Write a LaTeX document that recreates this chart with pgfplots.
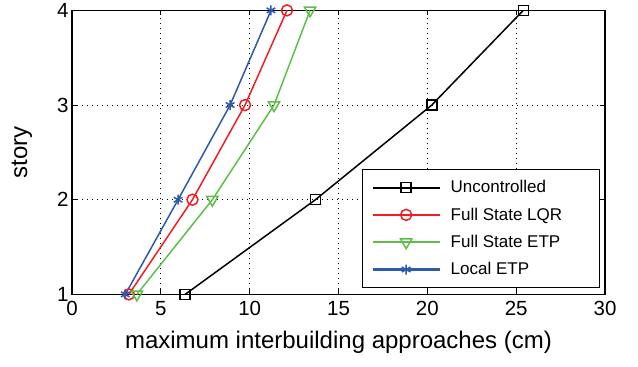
\documentclass[border=0pt]{standalone}
\usepackage{pgfplots}
\pgfplotsset{compat=1.18}
\usepackage{fontspec}
\setmainfont{Liberation Sans}
\definecolor{cred}{RGB}{240,30,35}
\definecolor{cgreen}{RGB}{95,190,75}
\definecolor{cblue}{RGB}{45,90,170}
\newcommand{\legtxt}[1]{\hspace{8pt}\makebox[138pt][l]{#1}}
\begin{document}
\begin{tikzpicture}
\begin{axis}[
  name=ax,
  scale only axis,
  width=533pt, height=284pt,
  xmin=0, xmax=30, ymin=1, ymax=4,
  xtick={0,5,...,30}, ytick={1,2,3,4},
  grid=major,
  major grid style={black, line width=0.7pt, dash pattern=on 1pt off 4pt},
  axis line style={line width=1.2pt},
  tick style={black, line width=0.8pt},
  tick align=inside,
  major tick length=5pt,
  /pgf/number format/assume math mode=true,
  ticklabel style={font=\fontsize{20.5}{24}\selectfont},
  xticklabel style={yshift=-3pt},
  xlabel={maximum interbuilding approaches (cm)},
  ylabel={story},
  label style={font=\fontsize{24}{28}\selectfont},
  xlabel style={yshift=-9pt},
  ylabel style={yshift=18pt},
  legend cell align=left,
  legend style={at={(rel axis cs:0.991,0.021)}, anchor=south east,
    font=\fontsize{17}{20}\selectfont, draw=black, line width=1pt,
    row sep=9.5pt, inner xsep=9pt, inner ysep=9.5pt},
  legend image post style={line width=2.1pt},
  legend image code/.code={\draw[#1] (0pt,0pt) -- (67pt,0pt); \draw[#1, mark repeat=2, mark phase=2] plot coordinates {(0pt,0pt) (33.5pt,0pt) (67pt,0pt)};},
]
\addplot[black, line width=1.5pt, mark=square, mark size=5pt, mark options={solid, line width=1.5pt}] coordinates {(6.37,1) (13.7,2) (20.25,3) (25.4,4)};
\addlegendentry{\legtxt{Uncontrolled}}
\addplot[cred, line width=1.5pt, mark=o, mark size=5.5pt, mark options={solid, line width=1.5pt}] coordinates {(3.2,1) (6.78,2) (9.74,3) (12.1,4)};
\addlegendentry{\legtxt{Full State LQR}}
\addplot[cgreen, line width=1.5pt, mark=triangle, mark size=6.5pt, mark options={solid, line width=1.5pt, rotate=180}] coordinates {(3.65,1) (7.9,2) (11.37,3) (13.4,4)};
\addlegendentry{\legtxt{Full State ETP}}
\addplot[cblue, line width=1.5pt, mark=asterisk, mark size=5pt, mark options={solid, line width=1.5pt}] coordinates {(3.0,1) (5.97,2) (8.9,3) (11.2,4)};
\addlegendentry{\legtxt{Local ETP}}
\end{axis}
\path (ax.south west) ++(-72pt,-72pt) coordinate (bl);
\path (ax.north east) ++(33pt,9pt) coordinate (tr);
\path (bl) rectangle (tr);
\end{tikzpicture}
\end{document}
